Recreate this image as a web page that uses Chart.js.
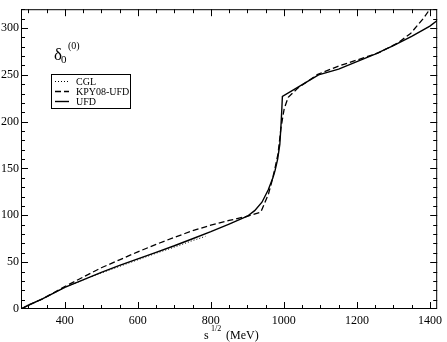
<!DOCTYPE html>
<html>
<head>
<meta charset="utf-8">
<title>delta_0^0 phase shift</title>
<script src="https://cdn.jsdelivr.net/npm/chart.js@4.4.1/dist/chart.umd.min.js"></script>
<style>
  html, body { margin: 0; padding: 0; background: #fff; }
  canvas { display: block; }
</style>
</head>
<body>
<canvas id="phaseChart" width="447" height="342"></canvas>
<script>
// values: sqrt(s) in MeV, phase in degrees
const ufdEnergy = [280, 300, 340, 400, 450, 500, 550, 600, 650, 700, 750, 800, 850, 900, 920, 940, 957, 970, 976, 983, 989, 992, 994, 996, 1040, 1095, 1150, 1200, 1250, 1300, 1350, 1400, 1420]
const ufdPhase  = [0, 4, 11, 23, 31, 39, 46.5, 53.5, 60.5, 67.5, 75, 82.5, 90.5, 99, 105, 114, 127, 140, 148, 160, 176, 195, 210, 227, 237, 250, 256, 264, 272, 281, 291, 302, 308]

const kpyEnergy = [280, 300, 340, 400, 450, 500, 550, 600, 650, 700, 750, 800, 850, 900, 937, 948, 958, 966, 975, 984, 992, 1001, 1012, 1039, 1093, 1148, 1202, 1257, 1311, 1347, 1384, 1405]
const kpyPhase  = [0, 4, 11, 24, 34, 44, 52.5, 61, 69, 76.5, 83.5, 89.5, 94.5, 99, 103.5, 113.6, 123, 134.4, 149, 165.6, 193, 214, 226, 236, 250.5, 259, 266, 273, 283.7, 294, 311, 323]

const cglEnergy = [280, 300, 340, 400, 450, 500, 550, 600, 650, 700, 750, 785]
const cglPhase  = [0, 4, 11, 23, 31, 38.5, 45.5, 52.5, 59.5, 66, 73, 77.5]

const xTickLabels = [400, 600, 800, 1000, 1200, 1400]
const yTickLabels = [0, 50, 100, 150, 200, 250, 300]
const seriesNames = ['CGL', 'KPY08-UFD', 'UFD']

const toPoints = (xs, ys) => xs.map((x, i) => ({x: x, y: ys[i]}))

const serif = "'Liberation Serif', 'DejaVu Serif', serif"

// box, inward ticks, labels and legend like the xmgrace original
const framePlugin = {
    id: 'frame',
    afterDatasetsDraw(chart){
        const {ctx, chartArea: a, scales: {x, y}} = chart
        ctx.save()
        ctx.strokeStyle = '#000'
        ctx.lineWidth = 1

        const seg = (x1, y1, x2, y2) => {
            ctx.beginPath(); ctx.moveTo(x1, y1); ctx.lineTo(x2, y2); ctx.stroke()
        }

        ctx.strokeRect(a.left + 0.5, a.top + 0.5, a.right - a.left - 1, a.bottom - a.top - 1)

        for(let v = 300; v <= x.max; v += 50){
            const px = Math.round(x.getPixelForValue(v)) + 0.5
            const len = xTickLabels.includes(v) ? 7 : 4
            seg(px, a.bottom, px, a.bottom - len)
            seg(px, a.top, px, a.top + len)
        }
        for(let v = 10; v <= y.max; v += 10){
            const py = Math.round(y.getPixelForValue(v)) + 0.5
            const len = v % 50 === 0 ? 7 : 4
            seg(a.left, py, a.left + len, py)
            seg(a.right, py, a.right - len, py)
        }

        // axis title  s^{1/2} (MeV)
        ctx.fillStyle = '#000'
        ctx.textBaseline = 'alphabetic'
        ctx.textAlign = 'left'
        ctx.font = `12px ${serif}`
        ctx.fillText('s', 204, 339)
        ctx.font = `8px ${serif}`
        ctx.fillText('1/2', 211, 331)
        ctx.font = `12px ${serif}`
        ctx.fillText('(MeV)', 226, 339)

        // delta_0^(0)
        ctx.font = `17px ${serif}`
        ctx.fillText('δ', 54, 60)
        ctx.font = `11px ${serif}`
        ctx.fillText('0', 61, 63)
        ctx.font = `10px ${serif}`
        ctx.fillText('(0)', 68, 49)

        // legend
        ctx.strokeRect(51.5, 74.5, 79, 34)
        const rows = [81, 91, 101]
        chart.data.datasets.forEach((ds, i) => {
            ctx.save()
            ctx.lineWidth = ds.borderWidth
            ctx.setLineDash(ds.borderDash || [])
            seg(55, rows[i] + 0.5, 69, rows[i] + 0.5)
            ctx.restore()
            ctx.font = `10px ${serif}`
            ctx.textBaseline = 'middle'
            ctx.fillText(seriesNames[i], 76, rows[i] + 1)
        })
        ctx.restore()
    }
}

new Chart(document.getElementById('phaseChart'), {
    type: 'line',
    data: {
        datasets: [
            {label: seriesNames[0], data: toPoints(cglEnergy, cglPhase), borderColor: '#000', borderWidth: 1, borderDash: [1, 2]},
            {label: seriesNames[1], data: toPoints(kpyEnergy, kpyPhase), borderColor: '#000', borderWidth: 1.3, borderDash: [6, 3]},
            {label: seriesNames[2], data: toPoints(ufdEnergy, ufdPhase), borderColor: '#000', borderWidth: 1.4}
        ]
    },
    options: {
        responsive: false,
        animation: false,
        devicePixelRatio: 1,
        elements: {point: {radius: 0}, line: {tension: 0}},
        layout: {padding: {top: 1, right: 6, left: 0, bottom: 0}},
        plugins: {legend: {display: false}, tooltip: {enabled: false}},
        scales: {
            x: {
                type: 'linear',
                min: 280,
                max: 1420,
                grid: {display: false, drawTicks: false},
                border: {display: false},
                afterBuildTicks: s => { s.ticks = xTickLabels.map(v => ({value: v})) },
                afterFit: s => { s.height = 33 },
                ticks: {color: '#000', padding: 5, maxRotation: 0, autoSkip: false, font: {family: serif, size: 12}, callback: v => String(v)}
            },
            y: {
                type: 'linear',
                min: 0,
                max: 320,
                grid: {display: false, drawTicks: false},
                border: {display: false},
                afterBuildTicks: s => { s.ticks = yTickLabels.map(v => ({value: v})) },
                afterFit: s => { s.width = 21 },
                ticks: {color: '#000', padding: 2, autoSkip: false, font: {family: serif, size: 12}, callback: v => String(v)}
            }
        }
    },
    plugins: [framePlugin]
})
</script>
</body>
</html>
